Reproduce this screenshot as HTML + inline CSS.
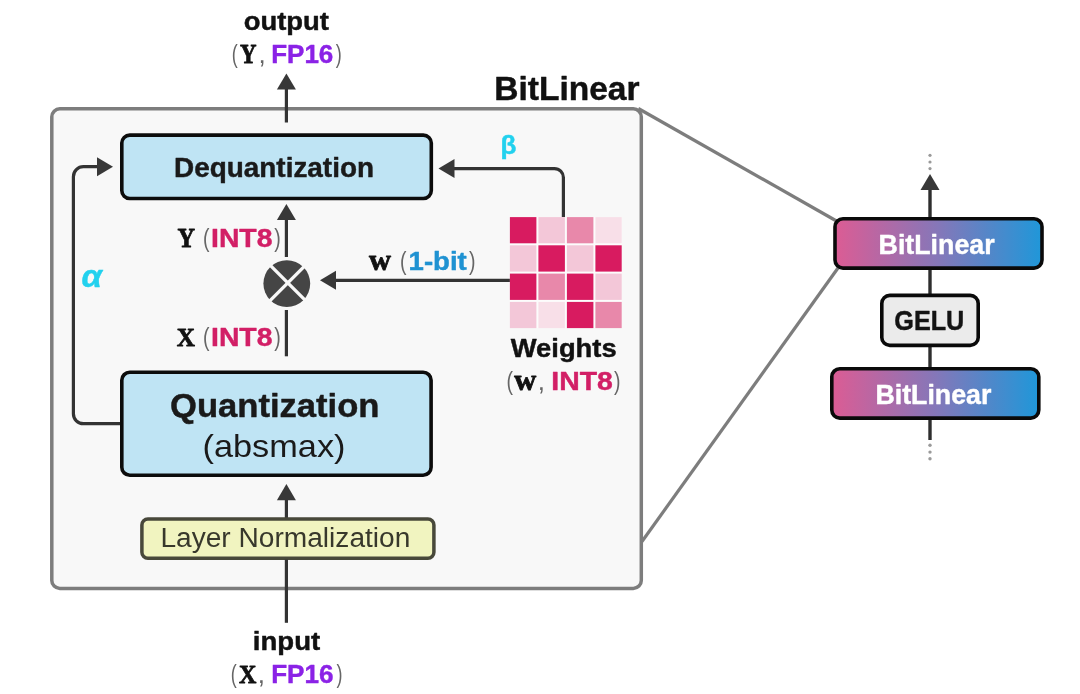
<!DOCTYPE html>
<html>
<head>
<meta charset="utf-8">
<title>BitLinear</title>
<style>
html,body{margin:0;padding:0;background:#fff;}
body{width:1080px;height:694px;overflow:hidden;}
svg{display:block;will-change:transform;}
text{font-family:"Liberation Sans",sans-serif;}
.b{font-weight:bold;stroke-width:0.45px;stroke-linejoin:round;}
.serif{font-family:"Liberation Serif",serif;font-weight:bold;stroke:#111;stroke-width:0.8px;stroke-linejoin:round;}
</style>
</head>
<body>
<svg width="1080" height="694" viewBox="0 0 1080 694">
<defs>
<linearGradient id="g" x1="0" y1="0" x2="1" y2="0">
<stop offset="0" stop-color="#dc5c94"/>
<stop offset="0.5" stop-color="#8577b9"/>
<stop offset="1" stop-color="#1f97d9"/>
</linearGradient>
</defs>
<rect width="1080" height="694" fill="#ffffff"/>

<!-- outer box -->
<rect x="51.8" y="108.8" width="589.5" height="479.6" rx="8" ry="8" fill="#f8f8f8" stroke="#7d7d7d" stroke-width="3.5"/>

<!-- gray connector lines -->
<line x1="638.3" y1="108.5" x2="836.5" y2="221" stroke="#7d7d7d" stroke-width="3.2"/>
<line x1="642" y1="541.5" x2="838" y2="268" stroke="#7d7d7d" stroke-width="3.2"/>

<!-- title -->
<text class="b" x="494.3" y="99.8" font-size="33" fill="#111" stroke="#111" textLength="145.2" lengthAdjust="spacingAndGlyphs">BitLinear</text>

<!-- output label -->
<text class="b" x="243.7" y="30" font-size="26" fill="#111" stroke="#111" textLength="85.3" lengthAdjust="spacingAndGlyphs">output</text>
<text x="231.7" y="63.3" font-size="26" fill="#666" textLength="6" lengthAdjust="spacingAndGlyphs">(</text>
<text class="serif" x="240" y="63.3" font-size="26.4" fill="#111" textLength="16.5" lengthAdjust="spacingAndGlyphs">Y</text>
<text x="258.5" y="63.3" font-size="26" fill="#666">,</text>
<text class="b" x="271.2" y="63.3" font-size="26" fill="#8b22e6" stroke="#8b22e6" textLength="62.1" lengthAdjust="spacingAndGlyphs">FP16</text>
<text x="335.7" y="63.3" font-size="26" fill="#666" textLength="6" lengthAdjust="spacingAndGlyphs">)</text>

<!-- top arrow -->
<line x1="286.4" y1="88" x2="286.4" y2="122.5" stroke="#333" stroke-width="3.2"/>
<polygon points="286.4,73.5 295.9,89.5 276.9,89.5" fill="#383838"/>

<!-- Dequantization -->
<rect x="121.8" y="135.1" width="309.5" height="63.4" rx="8" ry="8" fill="#bfe4f4" stroke="#0c0c0c" stroke-width="3.6"/>
<text class="b" x="174" y="176.6" font-size="27" fill="#1a1a1a" stroke="#1a1a1a" textLength="200" lengthAdjust="spacingAndGlyphs">Dequantization</text>

<!-- beta arrow -->
<path d="M563.4 217 V177.6 A9 9 0 0 0 554.4 168.6 H452" fill="none" stroke="#333" stroke-width="3.2"/>
<polygon points="438.5,168.6 454.5,159.1 454.5,178.1" fill="#383838"/>
<text class="b" x="500.5" y="154" font-size="26" fill="#22d1ee" stroke="#22d1ee">β</text>

<!-- alpha loop -->
<path d="M121 423.7 H83.4 A10 10 0 0 1 73.4 413.7 V176.7 A10 10 0 0 1 83.4 166.7 H100" fill="none" stroke="#333" stroke-width="3.2"/>
<polygon points="113,166.7 97,157.2 97,176.2" fill="#383838"/>
<text class="b" x="81.5" y="286.6" font-size="32" font-style="italic" fill="#22d1ee" stroke="#22d1ee" textLength="20.5" lengthAdjust="spacingAndGlyphs">α</text>

<!-- Y INT8 arrow -->
<line x1="286.4" y1="218" x2="286.4" y2="257" stroke="#333" stroke-width="3.2"/>
<polygon points="286.4,204 295.9,220 276.9,220" fill="#383838"/>
<line x1="286.4" y1="310" x2="286.4" y2="356.3" stroke="#333" stroke-width="3.2"/>

<!-- multiply circle -->
<circle cx="286.8" cy="283.6" r="23.4" fill="#454545"/>
<line x1="269.8" y1="264.9" x2="305.8" y2="300.9" stroke="#f8f8f8" stroke-width="3.4"/>
<line x1="305.8" y1="264.9" x2="269.8" y2="300.9" stroke="#f8f8f8" stroke-width="3.4"/>

<!-- w arrow -->
<line x1="334" y1="280.3" x2="510.5" y2="280.3" stroke="#333" stroke-width="3.2"/>
<polygon points="320,280.3 336,270.8 336,289.8" fill="#383838"/>

<!-- Y (INT8) -->
<text class="serif" x="177.5" y="246.8" font-size="26.4" fill="#111" textLength="17.5" lengthAdjust="spacingAndGlyphs">Y</text>
<text x="203" y="246.8" font-size="26" fill="#666" textLength="6.5" lengthAdjust="spacingAndGlyphs">(</text>
<text class="b" x="211" y="246.5" font-size="26.6" fill="#d21f66" stroke="#d21f66" textLength="61.5" lengthAdjust="spacingAndGlyphs">INT8</text>
<text x="274.3" y="246.8" font-size="26" fill="#666" textLength="6.5" lengthAdjust="spacingAndGlyphs">)</text>

<!-- X (INT8) -->
<text class="serif" x="176.8" y="346.3" font-size="25.8" fill="#111" textLength="18.2" lengthAdjust="spacingAndGlyphs">X</text>
<text x="203" y="346.3" font-size="26" fill="#666" textLength="6.5" lengthAdjust="spacingAndGlyphs">(</text>
<text class="b" x="211" y="346.1" font-size="26.6" fill="#d21f66" stroke="#d21f66" textLength="61.5" lengthAdjust="spacingAndGlyphs">INT8</text>
<text x="274.3" y="346.3" font-size="26" fill="#666" textLength="6.5" lengthAdjust="spacingAndGlyphs">)</text>

<!-- w (1-bit) -->
<text class="serif" x="369" y="269.5" font-size="29" fill="#111" textLength="22" lengthAdjust="spacingAndGlyphs">w</text>
<text x="400" y="269.5" font-size="26" fill="#666" textLength="6.5" lengthAdjust="spacingAndGlyphs">(</text>
<text class="b" x="408.6" y="269.5" font-size="26" fill="#1f92d2" stroke="#1f92d2" textLength="58.2" lengthAdjust="spacingAndGlyphs">1-bit</text>
<text x="468.9" y="269.5" font-size="26" fill="#666" textLength="6.5" lengthAdjust="spacingAndGlyphs">)</text>

<!-- weights grid -->
<g id="grid" transform="translate(0.4,0.1)">
<rect x="509.5" y="217" width="111.8" height="111" fill="#fcfcfc"/>
<rect x="509.5" y="217" width="26.5" height="26.2" fill="#d81b60"/>
<rect x="538" y="217" width="26.5" height="26.2" fill="#f3c7d8"/>
<rect x="566.5" y="217" width="26.5" height="26.2" fill="#e888aa"/>
<rect x="595" y="217" width="26.3" height="26.2" fill="#f8dfe8"/>
<rect x="509.5" y="245.2" width="26.5" height="26.3" fill="#f3c7d8"/>
<rect x="538" y="245.2" width="26.5" height="26.3" fill="#d81b60"/>
<rect x="566.5" y="245.2" width="26.5" height="26.3" fill="#f3c7d8"/>
<rect x="595" y="245.2" width="26.3" height="26.3" fill="#d81b60"/>
<rect x="509.5" y="273.5" width="26.5" height="26.3" fill="#d81b60"/>
<rect x="538" y="273.5" width="26.5" height="26.3" fill="#e888aa"/>
<rect x="566.5" y="273.5" width="26.5" height="26.3" fill="#d81b60"/>
<rect x="595" y="273.5" width="26.3" height="26.3" fill="#f3c7d8"/>
<rect x="509.5" y="301.8" width="26.5" height="26.2" fill="#f3c7d8"/>
<rect x="538" y="301.8" width="26.5" height="26.2" fill="#f8dfe8"/>
<rect x="566.5" y="301.8" width="26.5" height="26.2" fill="#d81b60"/>
<rect x="595" y="301.8" width="26.3" height="26.2" fill="#e888aa"/>
</g>

<!-- Weights label -->
<text class="b" x="510.8" y="356.6" font-size="25.5" fill="#111" stroke="#111" textLength="105.8" lengthAdjust="spacingAndGlyphs">Weights</text>
<text x="506.5" y="389.6" font-size="26" fill="#666" textLength="6.5" lengthAdjust="spacingAndGlyphs">(</text>
<text class="serif" x="514.2" y="389.6" font-size="29" fill="#111" textLength="22" lengthAdjust="spacingAndGlyphs">w</text>
<text x="537.8" y="389.6" font-size="26" fill="#666">,</text>
<text class="b" x="551.3" y="389.6" font-size="26" fill="#d21f66" stroke="#d21f66" textLength="61.5" lengthAdjust="spacingAndGlyphs">INT8</text>
<text x="614" y="389.6" font-size="26" fill="#666" textLength="6.5" lengthAdjust="spacingAndGlyphs">)</text>

<!-- Quantization -->
<rect x="121.8" y="372.3" width="309.3" height="102.9" rx="8" ry="8" fill="#bfe4f4" stroke="#0c0c0c" stroke-width="3.6"/>
<text class="b" x="170" y="417" font-size="33" fill="#1a1a1a" stroke="#1a1a1a" textLength="209.5" lengthAdjust="spacingAndGlyphs">Quantization</text>
<text x="202.5" y="457.4" font-size="31.5" fill="#1a1a1a" textLength="143" lengthAdjust="spacingAndGlyphs">(absmax)</text>

<!-- arrow to quant -->
<line x1="286.4" y1="498" x2="286.4" y2="518" stroke="#333" stroke-width="3.2"/>
<polygon points="286.4,484 295.9,500.3 276.9,500.3" fill="#383838"/>

<!-- Layer Normalization -->
<rect x="141.9" y="518.9" width="292" height="39.4" rx="6" ry="6" fill="#f1f4c0" stroke="#48483a" stroke-width="3.5"/>
<text x="160.4" y="547.4" font-size="27" fill="#38382c" textLength="250" lengthAdjust="spacingAndGlyphs">Layer Normalization</text>

<!-- input line -->
<line x1="286.4" y1="559.5" x2="286.4" y2="622.8" stroke="#333" stroke-width="3.2"/>
<text class="b" x="252.8" y="649.8" font-size="26" fill="#111" stroke="#111" textLength="67.4" lengthAdjust="spacingAndGlyphs">input</text>
<text x="230.8" y="682.6" font-size="26" fill="#666" textLength="6" lengthAdjust="spacingAndGlyphs">(</text>
<text class="serif" x="239" y="682.6" font-size="25.8" fill="#111" textLength="17.4" lengthAdjust="spacingAndGlyphs">X</text>
<text x="257.7" y="682.6" font-size="26" fill="#666">,</text>
<text class="b" x="271.2" y="682.6" font-size="26" fill="#8b22e6" stroke="#8b22e6" textLength="62.3" lengthAdjust="spacingAndGlyphs">FP16</text>
<text x="336.6" y="682.6" font-size="26" fill="#666" textLength="6" lengthAdjust="spacingAndGlyphs">)</text>

<!-- right stack -->
<line x1="930" y1="188" x2="930" y2="440" stroke="#2e2e2e" stroke-width="3.4"/>
<polygon points="930,173.9 939.5,190 920.5,190" fill="#383838"/>
<circle cx="930" cy="155.3" r="1.6" fill="#9a9a9a"/>
<circle cx="930" cy="162" r="1.6" fill="#9a9a9a"/>
<circle cx="930" cy="168.6" r="1.6" fill="#9a9a9a"/>
<circle cx="930" cy="445.3" r="1.7" fill="#9a9a9a"/>
<circle cx="930" cy="452.1" r="1.7" fill="#9a9a9a"/>
<circle cx="930" cy="458.8" r="1.7" fill="#9a9a9a"/>

<rect x="835" y="218.8" width="207" height="49.3" rx="8" ry="8" fill="url(#g)" stroke="#0a0a0a" stroke-width="3.6"/>
<text class="b" x="878.6" y="253.6" font-size="27.6" fill="#fff" stroke="#fff" textLength="116" lengthAdjust="spacingAndGlyphs">BitLinear</text>

<rect x="881.8" y="295.4" width="96.4" height="50" rx="8" ry="8" fill="#ebebeb" stroke="#0a0a0a" stroke-width="3.6"/>
<text class="b" x="894.3" y="329.6" font-size="27.3" fill="#141414" stroke="#141414" textLength="70" lengthAdjust="spacingAndGlyphs">GELU</text>

<rect x="831.8" y="368.8" width="207" height="49.3" rx="8" ry="8" fill="url(#g)" stroke="#0a0a0a" stroke-width="3.6"/>
<text class="b" x="875.4" y="403.6" font-size="27.6" fill="#fff" stroke="#fff" textLength="116" lengthAdjust="spacingAndGlyphs">BitLinear</text>
</svg>
</body>
</html>
